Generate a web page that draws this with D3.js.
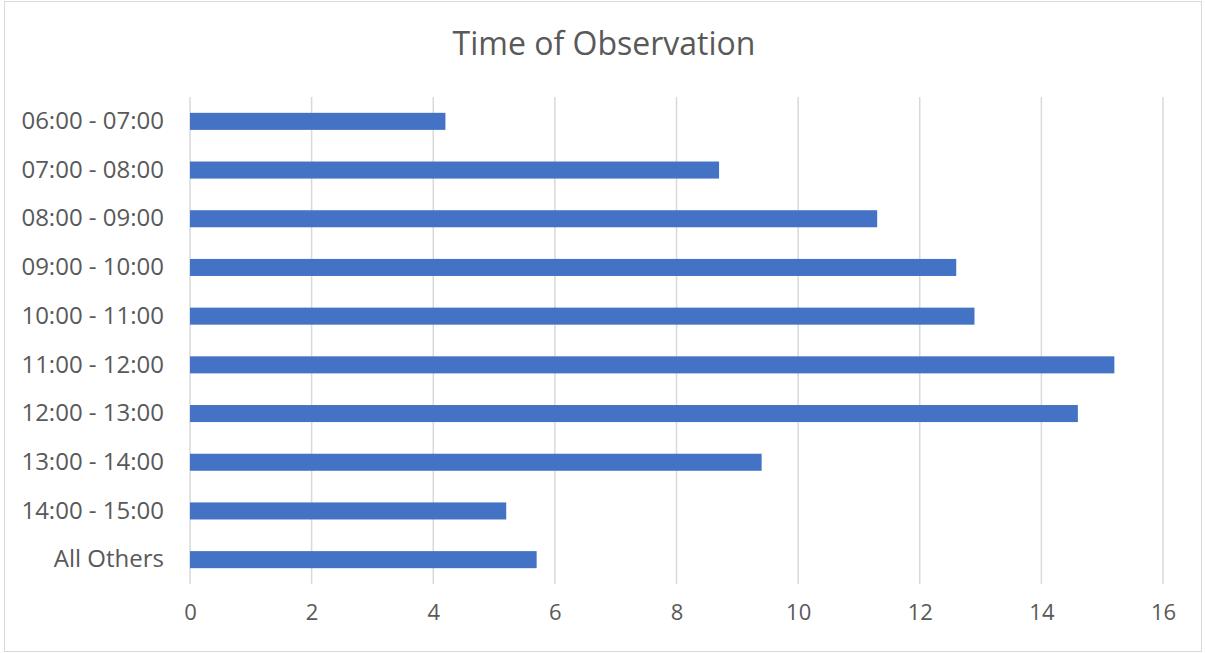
<!DOCTYPE html>
<html>
<head>
<meta charset="utf-8">
<script src="https://cdn.jsdelivr.net/npm/d3@7"></script>
<style>
  html, body { margin: 0; padding: 0; background: #fff; }
  svg { display: block; font-family: "Open Sans", sans-serif; }
</style>
</head>
<body>
<svg id="chart" width="1205" height="653"></svg>
<script>
// Observation counts per time slot
const categories = [
  "06:00 - 07:00", "07:00 - 08:00", "08:00 - 09:00", "09:00 - 10:00",
  "10:00 - 11:00", "11:00 - 12:00", "12:00 - 13:00", "13:00 - 14:00",
  "14:00 - 15:00", "All Others"
];
const values = [4.2, 8.7, 11.3, 12.6, 12.9, 15.2, 14.6, 9.4, 5.2, 5.7];
const xTicks = [0, 2, 4, 6, 8, 10, 12, 14, 16];
const title = "Time of Observation";

const svg = d3.select("#chart");
const W = 1205, H = 653;
const margin = { left: 190, right: W - 1163, top: 97, bottom: H - 584 };
const textColor = "#595959";

// outer chart frame
svg.append("rect")
  .attr("x", 4.5).attr("y", 1.5)
  .attr("width", 1197).attr("height", 650)
  .attr("fill", "#fff").attr("stroke", "#d9d9d9").attr("stroke-width", 1);

const x = d3.scaleLinear()
  .domain([0, 16])
  .range([margin.left, W - margin.right]);

const y = d3.scaleBand()
  .domain(categories)
  .range([margin.top, H - margin.bottom])
  .paddingInner(0.65)
  .paddingOuter(0.325);

// vertical gridlines
svg.append("g")
  .selectAll("line")
  .data(xTicks)
  .join("line")
  .attr("x1", d => x(d)).attr("x2", d => x(d))
  .attr("y1", margin.top).attr("y2", H - margin.bottom)
  .attr("stroke", "#d9d9d9").attr("stroke-width", 1.5);

// bars
svg.append("g")
  .selectAll("rect")
  .data(values)
  .join("rect")
  .attr("x", x(0))
  .attr("y", (d, i) => y(categories[i]))
  .attr("width", d => x(d) - x(0))
  .attr("height", y.bandwidth())
  .attr("fill", "#4472c4");

// category axis
const yAxis = svg.append("g")
  .attr("transform", `translate(${x(0)},0)`)
  .call(d3.axisLeft(y).tickSize(0).tickPadding(26));
yAxis.select(".domain").remove();
yAxis.selectAll("text")
  .attr("fill", textColor)
  .style("font-size", "24px")
  .style("font-family", "'Open Sans', sans-serif");

// value axis
const xAxis = svg.append("g")
  .attr("transform", `translate(0,${H - margin.bottom})`)
  .call(d3.axisBottom(x).tickValues(xTicks).tickSize(0).tickPadding(20));
xAxis.select(".domain").remove();
xAxis.selectAll("text")
  .attr("fill", textColor)
  .style("font-size", "22px")
  .style("font-family", "'Open Sans', sans-serif");

// title
svg.append("text")
  .attr("x", 604).attr("y", 55)
  .attr("text-anchor", "middle")
  .attr("fill", textColor)
  .style("font-size", "32px")
  .text(title);
</script>
</body>
</html>
